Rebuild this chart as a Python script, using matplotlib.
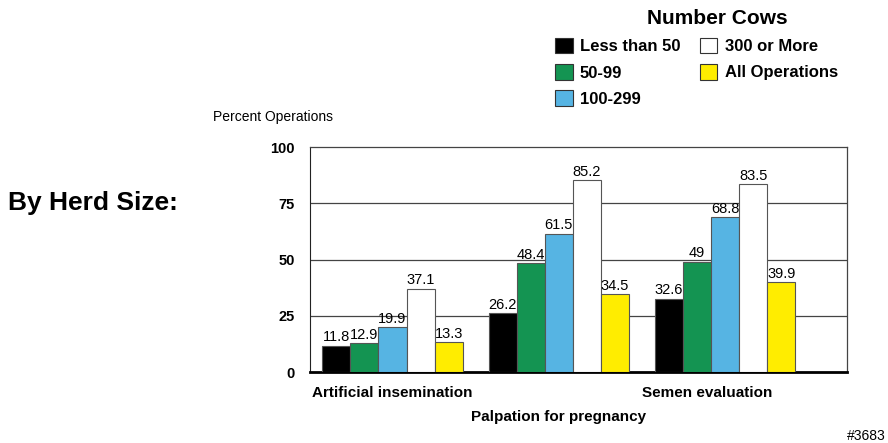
import matplotlib
matplotlib.use("Agg")
import matplotlib.pyplot as plt
import numpy as np

plt.rcParams["font.family"] = ["Liberation Sans", "DejaVu Sans"]

categories = ["Artificial insemination", "Palpation for pregnancy", "Semen evaluation"]
series = ["Less than 50", "50-99", "100-299", "300 or More", "All Operations"]
less_50 = [11.8, 26.2, 32.6]
s50_99 = [12.9, 48.4, 49]
s100_299 = [19.9, 61.5, 68.8]
s300_more = [37.1, 85.2, 83.5]
all_ops = [13.3, 34.5, 39.9]
values = [less_50, s50_99, s100_299, s300_more, all_ops]
labels_txt = [["11.8", "26.2", "32.6"], ["12.9", "48.4", "49"], ["19.9", "61.5", "68.8"],
              ["37.1", "85.2", "83.5"], ["13.3", "34.5", "39.9"]]
colors = ["#000000", "#149452", "#56B4E3", "#FFFFFF", "#FFED00"]

fig = plt.figure(figsize=(8.88, 4.43), dpi=100)
ax = fig.add_axes([0.349, 0.160, 0.605, 0.508])

x = np.arange(len(categories))
w = 0.169
for i, (vals, col, name) in enumerate(zip(values, colors, series)):
    pos = x + (i - 2) * w
    bars = ax.bar(pos, vals, w, color=col, edgecolor="#555555", linewidth=0.8,
                  label=name, zorder=3)
    for b, t in zip(bars, labels_txt[i]):
        ax.text(b.get_x() + b.get_width() / 2, b.get_height() + 0.6, t,
                ha="center", va="bottom", fontsize=10.5, zorder=4)

ax.set_xlim(-0.497, 2.735)
ax.set_ylim(0, 100)
ax.set_yticks([0, 25, 50, 75, 100])
ax.set_yticklabels(["0", "25", "50", "75", "100"], fontweight="bold", fontsize=10.5)
ax.tick_params(axis="y", length=0, pad=11)
ax.set_xticks([])
for yv in [25, 50, 75]:
    ax.axhline(yv, color="#444444", linewidth=0.9, zorder=1)
for s in ["top", "right"]:
    ax.spines[s].set_color("#444444")
    ax.spines[s].set_linewidth(0.9)
ax.spines["left"].set_color("#222222")
ax.spines["bottom"].set_color("black")
ax.spines["bottom"].set_linewidth(2)

# category labels, staggered like the original
xt = ax.get_xaxis_transform()
ax.text(0, -0.095, categories[0], transform=xt, ha="center", va="center",
        fontsize=11, fontweight="bold")
ax.text(1, -0.2, categories[1], transform=xt, ha="center", va="center",
        fontsize=11, fontweight="bold")
ax.text(1.89, -0.095, categories[2], transform=xt, ha="center", va="center",
        fontsize=11, fontweight="bold")

fig.text(213 / 888, 1 - 117 / 443, "Percent Operations", ha="left", va="center", fontsize=10)
fig.text(8 / 888, 1 - 203 / 443, "By Herd Size:", ha="left", va="center", fontsize=19,
         fontweight="bold")
fig.text(886 / 888, 1 - 436 / 443, "#3683", ha="right", va="center", fontsize=10)

# legend title placed on its own (it sits right of the legend's centre)
fig.text(717 / 888, 1 - 19 / 443, "Number Cows", ha="center", va="center",
         fontsize=15, fontweight="bold")
leg = fig.legend(loc="upper left", bbox_to_anchor=(555 / 888, 1 - 38 / 443), ncol=2,
                 frameon=False, handlelength=1.05, handleheight=1.05,
                 handletextpad=0.45, columnspacing=1.15, labelspacing=0.58,
                 borderaxespad=0, borderpad=0, prop={"weight": "bold", "size": 12})
for h in leg.legend_handles:
    h.set_edgecolor("#333333")

fig.savefig("out.png", dpi=100)
